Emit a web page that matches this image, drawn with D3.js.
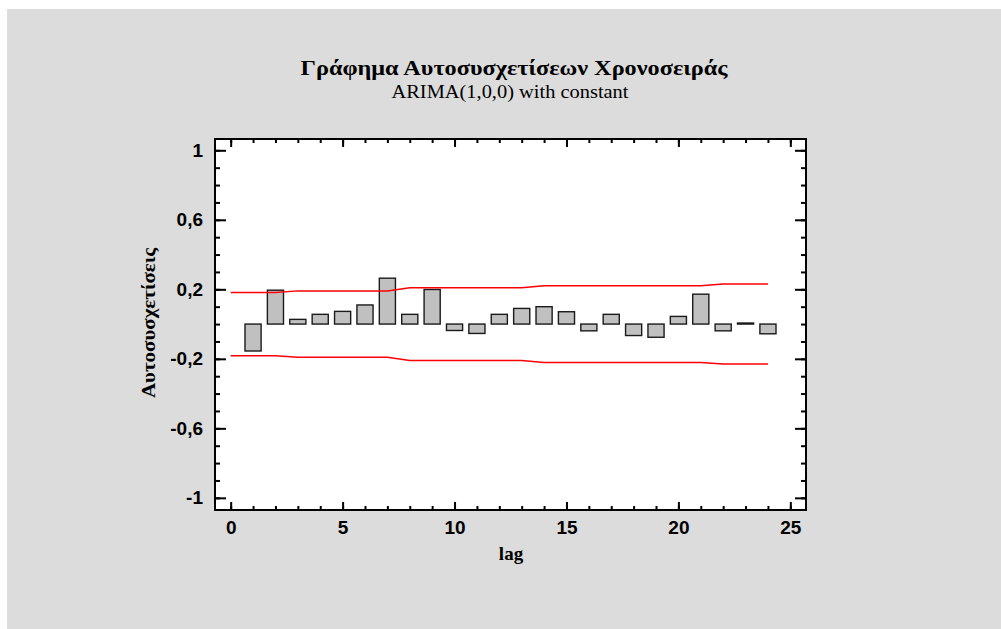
<!DOCTYPE html>
<head>
  <meta charset="utf-8">
  <script src="https://d3js.org/d3.v7.min.js"></script>
  <style>
    body { margin:0; background:#fff; }
    svg { display:block; }
  </style>
</head>
<body>
<svg width="1001" height="629"></svg>
<script>

// autocorrelations by lag (1..24)
const lags = d3.range(1, 25)
const acf = [-0.155, 0.195, 0.027, 0.056, 0.073, 0.110, 0.264, 0.056, 0.199, -0.037,
             -0.054, 0.056, 0.090, 0.100, 0.071, -0.039, 0.056, -0.066, -0.076, 0.044,
             0.172, -0.039, 0.006, -0.056]

// probability limits, lag 0..24
const limitLags = d3.range(0, 25)
const limit = [0.182, 0.182, 0.182, 0.191, 0.191, 0.191, 0.191, 0.191, 0.209, 0.209,
               0.209, 0.209, 0.209, 0.209, 0.221, 0.221, 0.221, 0.221, 0.221, 0.221,
               0.221, 0.221, 0.230, 0.230, 0.230]

const xMajor = [0, 5, 10, 15, 20, 25]
const xMinor = d3.range(0, 26)
const yMajor = [-1, -0.6, -0.2, 0.2, 0.6, 1]
const yLabels = ["-1", "-0,6", "-0,2", "0,2", "0,6", "1"]
const yMinor = d3.range(-10, 11).map(d => d / 10)

const title = "Γράφημα Αυτοσυσχετίσεων Χρονοσειράς",
      subtitle = "ARIMA(1,0,0) with constant",
      xTitle = "lag",
      yTitle = "Αυτοσυσχετίσεις"

const svg = d3.select("svg")

const pl = 215, pr = 806, pt = 139, pb = 510

const x = d3.scaleLinear().domain([-0.7, 25.7]).range([pl, pr])
const y = d3.scaleLinear().domain([-1.07, 1.065]).range([pb, pt])

// grey panel
svg.append("rect")
    .attr("x", 7).attr("y", 9)
    .attr("width", 1001 - 7).attr("height", 629 - 9)
    .attr("fill", "#dcdcdc")

svg.append("rect")
    .attr("x", pl).attr("y", pt)
    .attr("width", pr - pl).attr("height", pb - pt)
    .attr("fill", "#fff")

// bars
const bw = x(0.72) - x(0)
svg.append("g")
  .selectAll("rect")
  .data(lags)
  .enter().append("rect")
    .attr("x", d => x(d) - bw / 2)
    .attr("y", (d, i) => y(Math.max(0, acf[i])))
    .attr("width", bw)
    .attr("height", (d, i) => Math.abs(y(acf[i]) - y(0)))
    .attr("fill", "#c0c0c0")
    .attr("stroke", "#1a1a1a")
    .attr("stroke-width", 1.4)

// limits
const lineUp = d3.line().x(d => x(d)).y((d, i) => y(limit[i]))
const lineDn = d3.line().x(d => x(d)).y((d, i) => y(-limit[i]))
svg.append("path").datum(limitLags).attr("d", lineUp)
    .attr("fill", "none").attr("stroke", "#ff0000").attr("stroke-width", 1.5)
svg.append("path").datum(limitLags).attr("d", lineDn)
    .attr("fill", "none").attr("stroke", "#ff0000").attr("stroke-width", 1.5)

// ticks (inward on all four sides)
function ticks(axis, tx, ty) {
  const g = svg.append("g").attr("transform", `translate(${tx},${ty})`).call(axis)
  g.select(".domain").remove()
  g.selectAll("text").remove()
  g.selectAll("line").attr("stroke", "#000").attr("stroke-width", 2)
}
ticks(d3.axisRight(y).tickValues(yMajor).tickSize(11), pl, 0)
ticks(d3.axisRight(y).tickValues(yMinor).tickSize(5), pl, 0)
ticks(d3.axisLeft(y).tickValues(yMajor).tickSize(11), pr, 0)
ticks(d3.axisLeft(y).tickValues(yMinor).tickSize(5), pr, 0)
ticks(d3.axisTop(x).tickValues(xMajor).tickSize(8), 0, pb)
ticks(d3.axisTop(x).tickValues(xMinor).tickSize(4), 0, pb)
ticks(d3.axisBottom(x).tickValues(xMajor).tickSize(8), 0, pt)
ticks(d3.axisBottom(x).tickValues(xMinor).tickSize(4), 0, pt)

// tick labels
const yl = svg.append("g").attr("transform", `translate(${pl},0)`)
  .call(d3.axisLeft(y).tickValues(yMajor).tickSize(0).tickPadding(12)
    .tickFormat((d, i) => yLabels[i]))
const xl = svg.append("g").attr("transform", `translate(0,${pb})`)
  .call(d3.axisBottom(x).tickValues(xMajor).tickSize(0).tickPadding(11))
yl.select(".domain").remove()
xl.select(".domain").remove()
svg.selectAll(".tick text")
    .attr("font-family", "'Liberation Sans', Arial, sans-serif")
    .attr("font-weight", "bold")
    .attr("font-size", 19)
    .attr("fill", "#000")

// frame
svg.append("rect")
    .attr("x", pl).attr("y", pt)
    .attr("width", pr - pl).attr("height", pb - pt)
    .attr("fill", "none").attr("stroke", "#000").attr("stroke-width", 2)

// titles
const serif = "'Liberation Serif', 'Times New Roman', serif"
svg.append("text").attr("x", 514).attr("y", 75)
    .attr("text-anchor", "middle")
    .attr("font-family", serif)
    .attr("font-weight", "bold").attr("font-size", 20)
    .attr("textLength", 427).attr("lengthAdjust", "spacingAndGlyphs")
    .text(title)
svg.append("text").attr("x", 510).attr("y", 98)
    .attr("text-anchor", "middle")
    .attr("font-family", serif)
    .attr("font-size", 19)
    .attr("textLength", 237).attr("lengthAdjust", "spacingAndGlyphs")
    .text(subtitle)
svg.append("text").attr("x", 511).attr("y", 560)
    .attr("text-anchor", "middle")
    .attr("font-family", serif)
    .attr("font-weight", "bold").attr("font-size", 19)
    .text(xTitle)
svg.append("text")
    .attr("transform", `translate(155,323) rotate(-90)`)
    .attr("text-anchor", "middle")
    .attr("font-family", serif)
    .attr("font-weight", "bold").attr("font-size", 18)
    .attr("textLength", 150).attr("lengthAdjust", "spacingAndGlyphs")
    .text(yTitle)

</script>
</body>
